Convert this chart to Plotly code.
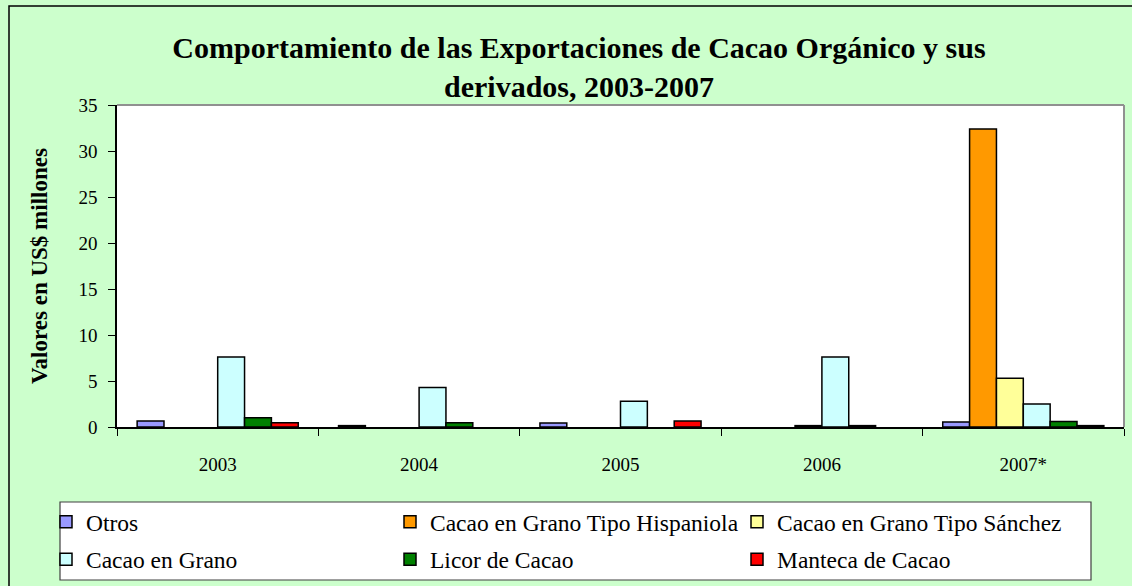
import plotly.graph_objects as go

years = ["2003", "2004", "2005", "2006", "2007*"]
series_names = ["Otros", "Cacao en Grano Tipo Hispaniola", "Cacao en Grano Tipo Sánchez",
                "Cacao en Grano", "Licor de Cacao", "Manteca de Cacao"]
# None = no bar drawn for that year
otros = [0.65, 0.15, 0.43, None, 0.55]
hispaniola = [None, None, None, None, 32.4]
sanchez = [None, None, None, 0.15, 5.3]
grano = [7.6, 4.3, 2.8, 7.6, 2.5]
licor = [1.0, 0.45, None, 0.15, 0.6]
manteca = [0.45, None, 0.65, None, 0.15]
y_ticks = [0, 5, 10, 15, 20, 25, 30, 35]

values = [otros, hispaniola, sanchez, grano, licor, manteca]
colors = ["#9999FF", "#FF9900", "#FFFF99", "#CCFFFF", "#008000", "#FF0000"]
legends = ["legend", "legend2", "legend3", "legend", "legend2", "legend3"]

W, H = 1132, 586
L, R, T, B = 117, 1124, 105, 427
FONT = "Liberation Serif"

def px(x):
    return (x - L) / (R - L)

def py(y):
    return (B - y) / (B - T)

fig = go.Figure()
for name, vals, col, lg in zip(series_names, values, colors, legends):
    fig.add_trace(go.Bar(
        x=years, y=vals, name=name, legend=lg, legendgroup=name,
        marker=dict(color=col, line=dict(color="black", width=1.5)),
    ))

legend_common = dict(
    bgcolor="rgba(0,0,0,0)", borderwidth=0, orientation="v",
    xanchor="left", yanchor="top", tracegroupgap=4,
    font=dict(family=FONT, size=23.5, color="black"),
    itemclick=False, itemdoubleclick=False,
)

shapes = [
    # outer frame
    dict(type="rect", xref="paper", yref="paper", x0=px(9), x1=px(1160), y0=py(6), y1=py(610),
         line=dict(color="black", width=1.5), fillcolor="rgba(0,0,0,0)", layer="below"),
    # legend box
    dict(type="rect", xref="paper", yref="paper", x0=px(60), x1=px(1091), y0=py(502), y1=py(580),
         line=dict(color="#404040", width=1.2), fillcolor="white", layer="below"),
    # plot area top/right border
    dict(type="line", xref="paper", yref="paper", x0=0, x1=1, y0=1, y1=1,
         line=dict(color="#909090", width=2)),
    dict(type="line", xref="paper", yref="paper", x0=1, x1=1, y0=0, y1=1,
         line=dict(color="#909090", width=2)),
]

fig.update_layout(
    width=W, height=H,
    margin=dict(l=L, r=W - R, t=T, b=H - B, pad=0, autoexpand=False),
    paper_bgcolor="#CCFFCC", plot_bgcolor="white",
    barmode="group", bargap=0.2, bargroupgap=0,
    font=dict(family=FONT, color="black"),
    title=dict(
        text="<b>Comportamiento de las Exportaciones de Cacao Orgánico y sus<br>derivados, 2003-2007</b>",
        x=579 / W, xanchor="center", xref="container",
        y=1 - 58 / H, yanchor="top", yref="container",
        font=dict(family=FONT, size=30, color="black"),
    ),
    xaxis=dict(
        type="category", tickson="boundaries", ticks="outside", ticklen=7,
        tickcolor="black", showline=True, linecolor="black", linewidth=1.5,
        showgrid=False, ticklabelstandoff=19,
        tickfont=dict(family=FONT, size=19, color="black"),
    ),
    yaxis=dict(
        range=[0, 35], tickvals=y_ticks, ticks="outside", ticklen=7,
        tickcolor="black", showline=True, linecolor="black", linewidth=1.5,
        showgrid=False, zeroline=False, ticklabelstandoff=7,
        tickfont=dict(family=FONT, size=19, color="black"),
        title=dict(text="<b>Valores en US$ millones</b>", standoff=24,
                   font=dict(family=FONT, size=23, color="black")),
    ),
    legend=dict(x=px(46), y=py(500), **legend_common),
    legend2=dict(x=px(390), y=py(500), **legend_common),
    legend3=dict(x=px(737), y=py(500), **legend_common),
    shapes=shapes,
)

fig.write_html("out.html", config={"displayModeBar": False},
               post_script="document.body.style.margin='0';")
